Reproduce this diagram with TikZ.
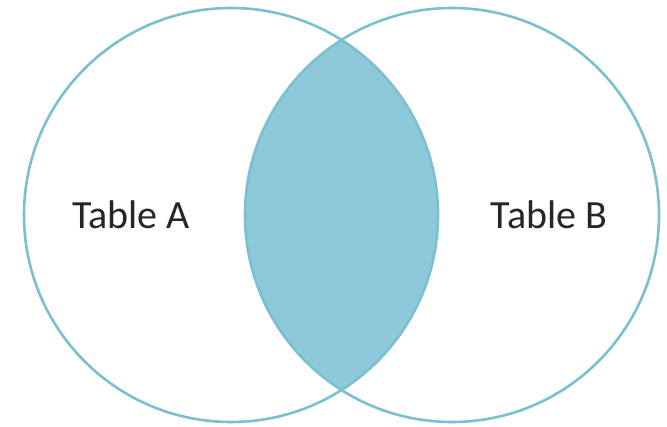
\documentclass[tikz,border=0pt]{standalone}
\usepackage{fontspec}
\setmainfont{Carlito}
\usepackage{tikz}
\usetikzlibrary{positioning}
\usepackage{xcolor}
\definecolor{ringteal}{RGB}{122,192,207}
\definecolor{lensblue}{RGB}{142,201,219}

\begin{document}
\begin{tikzpicture}[
  x=1pt, y=-1pt,
  font=\fontsize{40}{44}\selectfont,
  setbase/.style={circle, minimum size=414pt, inner sep=0pt},
  setring/.style={setbase, draw=ringteal, line width=2.6pt},
  setlabel/.style={text=black!85, inner sep=0pt},
]
\useasboundingbox (0,0) rectangle (667,427);
\fill[white] (0,0) rectangle (667,427);

\coordinate (ca) at (231,215);
\coordinate (cb) at (452,215);

% overlap
\begin{scope}
  \clip (ca) circle (207);
  \fill[lensblue] (cb) circle (207);
\end{scope}

\node[setring] (tabA) at (ca) {};
\node[setring] (tabB) at (cb) {};

\node[setlabel] (labA) at (131,215) {Table A};
\node[setlabel] (labB) at (549,215) {Table B};
\end{tikzpicture}
\end{document}
